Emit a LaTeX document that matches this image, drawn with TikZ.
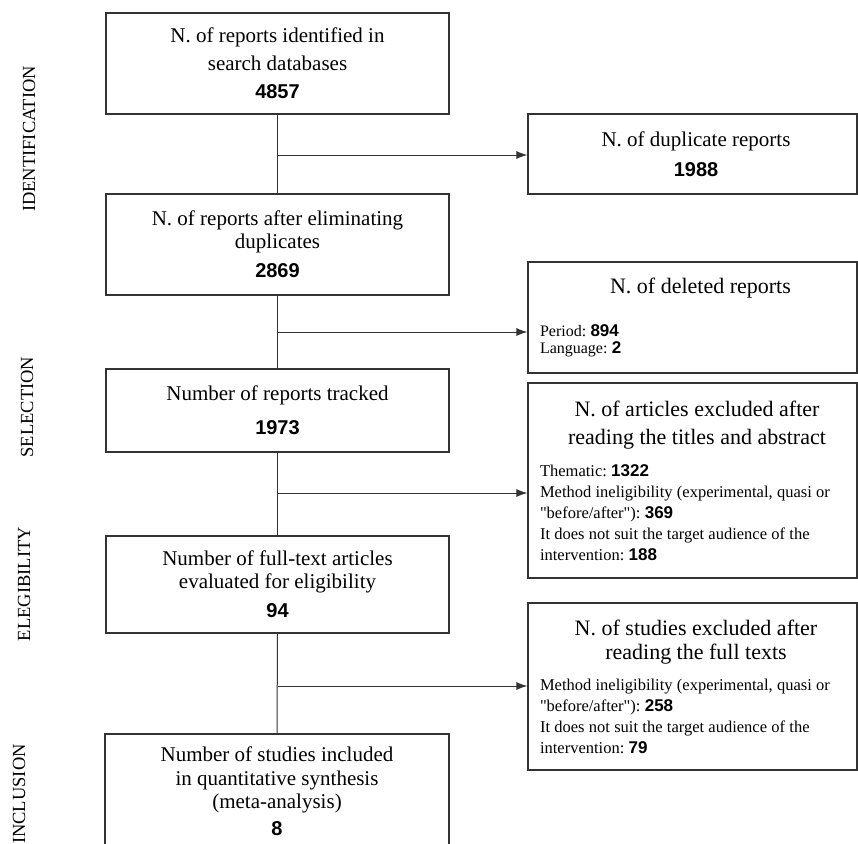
\documentclass[tikz,border=0pt]{standalone}
\usepackage{fontspec}
\setmainfont{Liberation Serif}
\setsansfont{Liberation Sans}
\usetikzlibrary{arrows.meta}
\setlength{\parindent}{0pt}
\setlength{\parskip}{0pt}
\newcommand{\nb}[1]{{\fontsize{20}{24}\selectfont\sffamily\bfseries #1}}
\newcommand{\nbs}[1]{{\fontsize{17}{20}\selectfont\sffamily\bfseries #1}}
\newcommand{\sq}{\XeTeXglyph\XeTeXcharglyph"22\relax}
\newcommand{\titlefont}[1]{\fontsize{22}{#1}\selectfont\spaceskip=5.5pt\xspaceskip=5.5pt\centering}
\newcommand{\detailfont}[2]{\fontsize{#1}{#2}\selectfont\spaceskip=4.3pt\xspaceskip=4.3pt\raggedright}
\begin{document}
\begin{tikzpicture}[x=1pt,y=-1pt,
  box/.style={draw=black!80, line width=1.2pt, inner sep=0pt, align=center,
              font=\fontsize{21}{27}\selectfont},
  rbox/.style={draw=black!80, line width=1.2pt, inner xsep=12pt, inner ysep=0pt,
               text width=305pt},
  link/.style={draw=black!80, line width=1pt},
  arr/.style={link, -{Latex[length=11pt,width=8pt]}},
  phase/.style={rotate=90, anchor=base, font=\fontsize{18.5}{20}\selectfont}]
\useasboundingbox (0,0) rectangle (858,843);
\clip (0,0) rectangle (858,843);

% phase labels
\node[phase] (pI) at (35,139) {IDENTIFICATION};
\node[phase] (pS) at (33,407) {SELECTION};
\node[phase] (pE) at (30,584) {ELEGIBILITY};
\node[phase] (pN) at (25,794) {INCLUSION};

% main column
\node[box, minimum width=343pt, minimum height=101pt, font=\fontsize{21}{28}\selectfont] (B1) at (277.5,63.5)
  {N. of reports identified in\\search databases\\\nb{4857}};
\node[box, minimum width=343pt, minimum height=101pt] (B2) at (277.5,244.5)
  {N. of reports after eliminating\\[-4pt]duplicates\\[2pt]\nb{2869}};
\node[box, minimum width=343pt, minimum height=83pt] (B3) at (277.5,410.5)
  {Number of reports tracked\\[7pt]\nb{1973}};
\node[box, minimum width=343pt, minimum height=97pt] (B4) at (277.5,584.5)
  {Number of full-text articles\\[-4pt]evaluated for eligibility\\[2pt]\nb{94}};
\node[box, minimum width=344pt, minimum height=114pt] (B5) at (277,791)
  {Number of studies included\\[-3pt]in quantitative synthesis\\[-4pt](meta-analysis)\\\nb{8}};

% right column
\node[box, minimum width=329pt, minimum height=80pt] (R1) at (692.5,154)
  {\hspace*{7pt}N. of duplicate reports\\[3pt]\hspace*{7pt}\nb{1988}};
\node[rbox, minimum height=111pt] (R2) at (692.5,317.5)
  {{\titlefont{28}\hspace*{16pt}N. of deleted reports\par}
   \vspace{26pt}
   {\detailfont{16}{17}Period: \nbs{894}\\Language: \nbs{2}\par}};
\node[rbox, minimum height=195pt] (R3) at (692.5,480.5)
  {{\titlefont{28}\hspace*{9pt}N. of articles excluded after\\\hspace*{9pt}reading the titles and abstract\par}
   \vspace{11pt}
   {\detailfont{16.5}{21}Thematic: \nbs{1322}\\
    Method ineligibility (experimental, quasi or\\
    \sq before/after\sq): \nbs{369}\\
    It does not suit the target audience of the\\
    intervention: \nbs{188}\par}};
\node[rbox, minimum height=167pt] (R4) at (692.5,686.5)
  {{\titlefont{24}\hspace*{7pt}N. of studies excluded after\\\hspace*{7pt}reading the full texts\par}
   \vspace{10pt}
   {\detailfont{16.5}{21}Method ineligibility (experimental, quasi or\\
    \sq before/after\sq): \nbs{258}\\
    It does not suit the target audience of the\\
    intervention: \nbs{79}\par}};

% junctions
\coordinate (j1) at (277.5,155);
\coordinate (j2) at (277.5,332);
\coordinate (j3) at (277.5,493);
\coordinate (j4) at (277.5,686);

% connectors
\draw[link] (B1.south) -- (B2.north);
\draw[link] (B2.south) -- (B3.north);
\draw[link] (B3.south) -- (B4.north);
\draw[link] (B4.south) -- (B5.north);
\draw[arr] (j1) -- (j1 -| R1.west);
\draw[arr] (j2) -- (j2 -| R2.west);
\draw[arr] (j3) -- (j3 -| R3.west);
\draw[arr] (j4) -- (j4 -| R4.west);
\end{tikzpicture}
\end{document}
